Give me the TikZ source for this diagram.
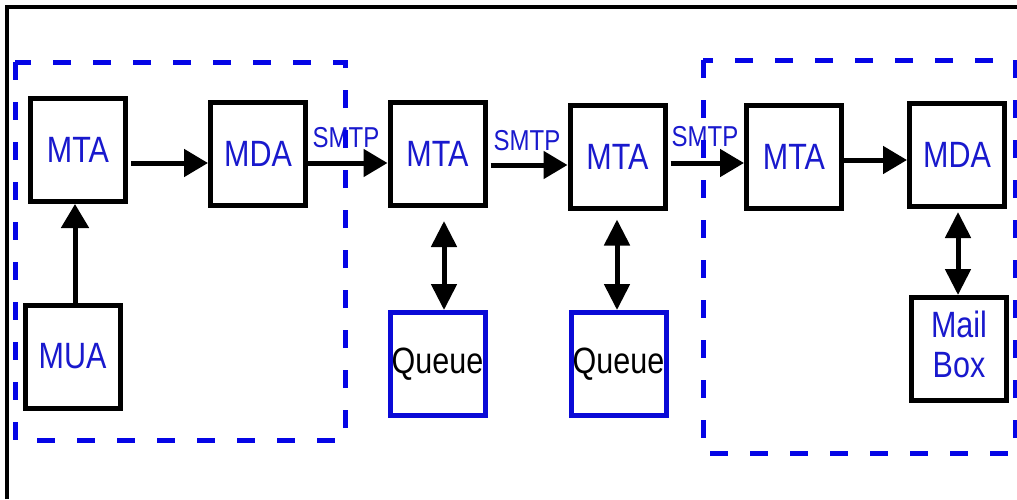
\documentclass[tikz,border=0pt]{standalone}
\usepackage{graphicx}
\usepackage{fontspec}
\setmainfont{Liberation Sans}
\usetikzlibrary{arrows.meta}
\definecolor{txtblue}{RGB}{25,25,205}
\definecolor{dashblue}{RGB}{5,5,230}
\definecolor{qblue}{RGB}{10,10,215}
\newcommand{\stretchtxt}[1]{\scalebox{1}[1.2]{#1}}
\tikzset{
  box/.style={draw=black, line width=5pt, minimum width=95pt, minimum height=103pt, inner sep=0pt,
     text=txtblue, font=\fontsize{30.5}{36}\selectfont},
  qbox/.style={box, draw=qblue, text=black},
  lbl/.style={text=txtblue, font=\fontsize{24}{28}\selectfont, inner sep=0pt},
  arr/.style={line width=5pt, -{Triangle[length=24pt,width=27pt]}},
  darr/.style={line width=5pt, {Triangle[length=26pt,width=25pt]}-{Triangle[length=26pt,width=25pt]}},
  group/.style={draw=dashblue, line width=5pt, dash pattern=on 18pt off 22pt},
  frame/.style={draw=black, line width=4pt}
}
\begin{document}
\begin{tikzpicture}[x=1pt,y=-1pt]
\useasboundingbox (0,0) rectangle (1017,499);
\fill[white] (0,0) rectangle (1017,499);
\draw[frame] (7,499) -- (7,7) -- (1017,7);

\node[box] (mta1) at (78,150) {\stretchtxt{MTA}};
\node[box] (mda1) at (258,154) {\stretchtxt{MDA}};
\node[box] (mua) at (72.5,356.5) {\stretchtxt{MUA}};
\node[box] (mta2) at (437.5,154) {\stretchtxt{MTA}};
\node[box] (mta3) at (617.5,156.5) {\stretchtxt{MTA}};
\node[box] (mta4) at (794,156.5) {\stretchtxt{MTA}};
\node[box] (mda2) at (957,155) {\stretchtxt{MDA}};
\node[box] (mbox) at (959,349) {\stretchtxt{\begin{tabular}{@{}c@{}}Mail\\[-3pt]Box\end{tabular}}};
\node[qbox] (q1) at (437.5,364) {\stretchtxt{Queue}};
\node[qbox] (q2) at (618.5,364) {\stretchtxt{Queue}};

\node[lbl] (s1) at (346,138) {\stretchtxt{SMTP}};
\node[lbl] (s2) at (527,141) {\stretchtxt{SMTP}};
\node[lbl] (s3) at (705,137) {\stretchtxt{SMTP}};

\draw[arr] (mua.north -| 75,0) -- (mta1.south -| 75,0);
\draw[arr] ([xshift=3pt]mta1.east |- 0,163) -- (mda1.west |- 0,163);
\draw[arr] (mda1.east |- 0,163) -- (mta2.west |- 0,163);
\draw[arr] ([xshift=3pt]mta2.east |- 0,165) -- (mta3.west |- 0,165);
\draw[arr] ([xshift=3pt]mta3.east |- 0,163) -- (mta4.west |- 0,163);
\draw[arr] (mta4.east |- 0,160) -- (mda2.west |- 0,160);

\draw[darr, shorten <=13pt] (mta2.south -| 444,0) -- (q1.north -| 444,0);
\draw[darr, shorten <=9pt] (mta3.south -| 617,0) -- (q2.north -| 617,0);
\draw[darr, shorten <=3pt] (mda2.south -| 958,0) -- (mbox.north -| 958,0);

\draw[group] (15,62) rectangle (345,440);
\draw[group] (703,60) rectangle (1015,453);
\end{tikzpicture}
\end{document}
